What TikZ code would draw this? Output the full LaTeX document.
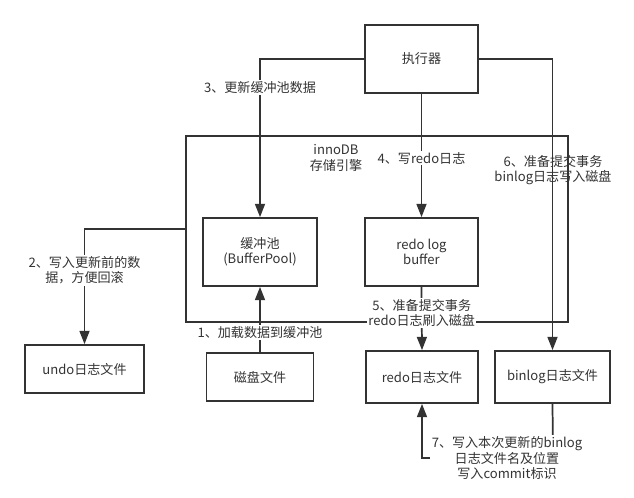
\documentclass[tikz,border=0pt]{standalone}
\usepackage{fontspec}
\setmainfont{Noto Sans CJK SC}
\usepackage{xcolor}
\usepackage{tikz}
\usetikzlibrary{arrows.meta,positioning,calc}
\definecolor{inkgray}{HTML}{333333}

\begin{document}
\begin{tikzpicture}[
    x=0.75pt, y=-0.75pt,
    font=\fontsize{9.8pt}{11.5pt}\selectfont,
    box/.style={rectangle, draw=inkgray, line width=1.3pt, text=inkgray, align=center, inner sep=2pt},
    wire/.style={draw=inkgray, line width=1.3pt},
    arrow/.style={wire, -{Triangle[length=10pt,width=7.5pt]}},
    flowlabel/.style={fill=white, text=inkgray, align=center, inner sep=1pt},
    plainlabel/.style={text=inkgray, align=center, inner sep=1pt}
]
\useasboundingbox (0,0) rectangle (634,497);

% innoDB frame
\coordinate (engNW) at (186,136);
\coordinate (engSE) at (568,322);
\coordinate (undojoin) at (186,229);
\draw[wire] (engNW) rectangle (engSE);
\node[plainlabel] (engine) at (336,158) {innoDB\\存储引擎};

% boxes
\node[box, minimum width=84.75pt, minimum height=51pt] (exec) at (421.5,59) {执行器};
\node[box, minimum width=85.5pt, minimum height=51pt] (bufpool) at (260,252) {缓冲池\\(BufferPool)};
\node[box, minimum width=84.75pt, minimum height=51pt] (redobuf) at (421.5,252) {redo log\\buffer};
\node[box, minimum width=89.25pt, minimum height=36pt] (undofile) at (84.5,369) {undo日志文件};
\node[box, minimum width=80.25pt, minimum height=36pt] (diskfile) at (260,377) {磁盘文件};
\node[box, minimum width=84pt, minimum height=39pt] (redofile) at (422,377) {redo日志文件};
\node[box, minimum width=86.25pt, minimum height=39pt] (binfile) at (552.5,377) {binlog日志文件};

% connectors
\draw[arrow] (diskfile.north) -- node[flowlabel, pos=0.3] (step1) {1、加载数据到缓冲池} (bufpool.south);
\draw[arrow] (undojoin) -| node[flowlabel, pos=0.68] (step2) {2、写入更新前的数\\据，方便回滚} (undofile.north);
\draw[arrow] (exec.west) -| node[flowlabel, pos=0.59] (step3) {3、更新缓冲池数据} (bufpool.north);
\draw[arrow] (exec.south) -- node[flowlabel, pos=0.52] (step4) {4、写redo日志} (redobuf.north);
\draw[arrow] (redobuf.south) -- node[flowlabel, pos=0.41] (step5) {5、准备提交事务\\redo日志刷入磁盘} (redofile.north);
\draw[arrow] (exec.east) -| (binfile.north);
\node[plainlabel] (step6) at (553,170) {6、准备提交事务\\binlog日志写入磁盘};

\coordinate (ret7) at (553,458);
\draw[arrow] (binfile.south) -- (ret7) -| (redofile.south);
\node[flowlabel] (step7) at (507,458) {7、写入本次更新的binlog\\日志文件名及位置\\写入commit标识};
\end{tikzpicture}
\end{document}
